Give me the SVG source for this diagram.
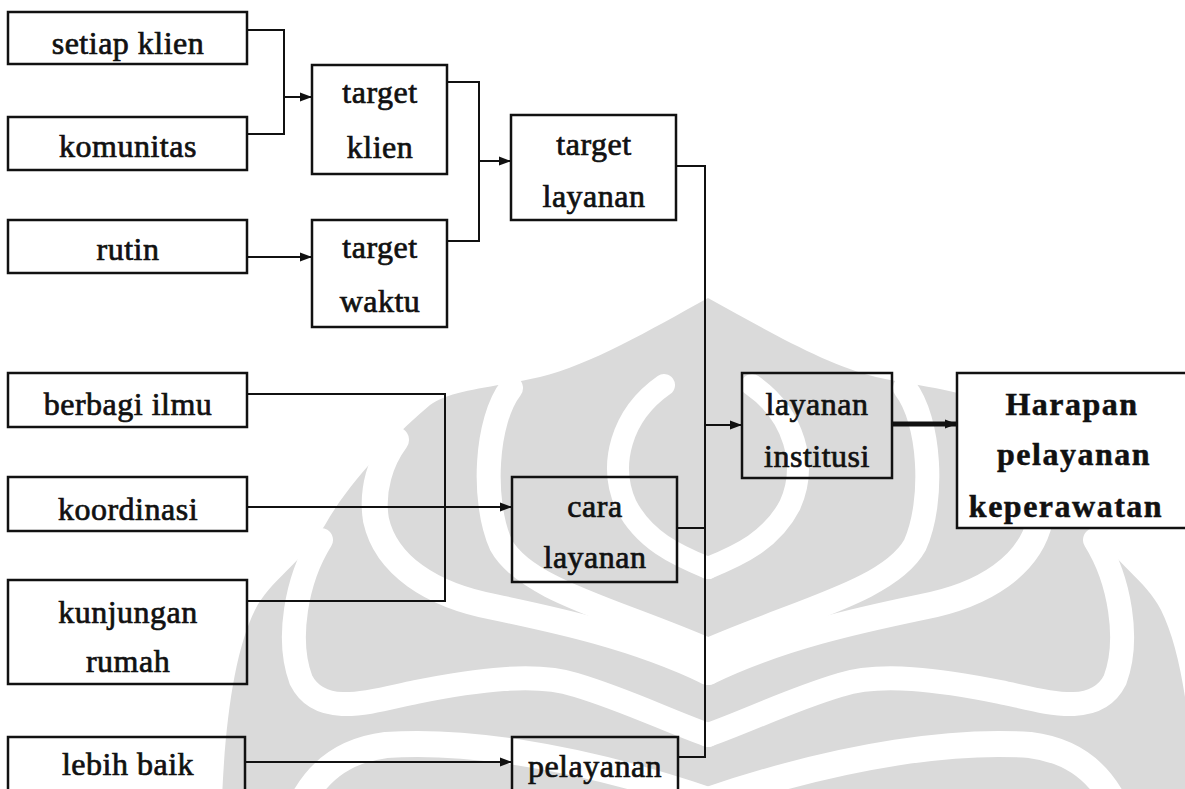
<svg xmlns="http://www.w3.org/2000/svg" xmlns:xlink="http://www.w3.org/1999/xlink" width="1185" height="789" viewBox="0 0 1185 789">
<style>
.box{fill:none;stroke:#111;stroke-width:2.5}
.ln{fill:none;stroke:#111;stroke-width:2}
.thick{fill:none;stroke:#111;stroke-width:5}
.t{font-family:"Liberation Serif","Times New Roman",serif;font-size:32px;fill:#111;stroke:#111;stroke-width:0.7;text-anchor:middle;letter-spacing:0.5px}
.tb{font-weight:bold;letter-spacing:1.5px;stroke-width:0.5}
.wm{fill:none;stroke:#fff;stroke-linecap:round}
</style>
<defs>
<marker id="ah" viewBox="0 0 12 10" refX="12" refY="5" markerWidth="12" markerHeight="10" markerUnits="userSpaceOnUse" orient="auto"><path d="M0,0.5 L12,5 L0,9.5 Z" fill="#111"/></marker>
<g id="wmhalf">
<path class="wm" d="M708,672 C780,637 860,620 922,607 C985,595 1030,565 1040,520 C1045,490 1035,460 1020,440" stroke-width="26"/>
<path class="wm" d="M905,388 C930,420 935,500 915,545 C890,590 800,610 708,650" stroke-width="24"/>
<path class="wm" d="M752,385 C795,415 808,465 790,505 C772,540 740,555 708,568" stroke-width="22"/>
<path class="wm" d="M1095,540 C1120,580 1130,640 1115,680 C1095,720 1040,700 1000,692 C940,680 880,672 840,685 C790,700 750,720 708,735" stroke-width="24"/>
<path class="wm" d="M708,800 C850,752 960,740 1030,745 C1070,750 1095,770 1110,795" stroke-width="26"/>
</g>
</defs>
<rect width="1185" height="789" fill="#fff"/>
<g id="watermark">
<path d="M708,298 C766,330 826,365 876,377 C926,388 966,390 986,405 C1016,430 1066,480 1091,525 C1116,565 1146,580 1161,610 C1181,650 1191,720 1194,800 L222,800 C225,720 235,650 255,610 C270,580 300,565 325,525 C350,480 400,430 430,405 C450,390 490,388 540,377 C590,365 650,330 708,298 Z" fill="#dadada"/>
<use xlink:href="#wmhalf"/>
<use xlink:href="#wmhalf" transform="translate(1416 0) scale(-1 1)"/>
</g>
<g id="connectors">
<path class="ln" d="M247,30 H284 V134 H247"/>
<path class="ln" d="M284,97 H312" marker-end="url(#ah)"/>
<path class="ln" d="M247,257 H312" marker-end="url(#ah)"/>
<path class="ln" d="M447,82 H479 V241 H447"/>
<path class="ln" d="M479,161 H511" marker-end="url(#ah)"/>
<path class="ln" d="M676,166 H705 V757 H678"/>
<path class="ln" d="M705,425 H742" marker-end="url(#ah)"/>
<path class="ln" d="M677,528 H705"/>
<path class="ln" d="M247,394 H445 V601 H247"/>
<path class="ln" d="M247,507 H512" marker-end="url(#ah)"/>
<path class="ln" d="M245,762 H512" marker-end="url(#ah)"/>
<path class="thick" d="M891,424 H957" marker-end="url(#ah)"/>
</g>
<g id="n-setiap-klien"><rect class="box" x="8" y="12" width="239" height="52"/><text class="t" x="128" y="54">setiap klien</text></g>
<g id="n-komunitas"><rect class="box" x="8" y="117" width="239" height="53"/><text class="t" x="128" y="157">komunitas</text></g>
<g id="n-rutin"><rect class="box" x="8" y="220" width="239" height="53"/><text class="t" x="128" y="260">rutin</text></g>
<g id="n-target-klien"><rect class="box" x="312" y="65" width="135" height="109"/><text class="t" x="380" y="103">target</text><text class="t" x="380" y="158">klien</text></g>
<g id="n-target-waktu"><rect class="box" x="312" y="220" width="135" height="107"/><text class="t" x="380" y="258">target</text><text class="t" x="380" y="312">waktu</text></g>
<g id="n-target-layanan"><rect class="box" x="511" y="115" width="165" height="105"/><text class="t" x="594" y="155">target</text><text class="t" x="594" y="207">layanan</text></g>
<g id="n-berbagi-ilmu"><rect class="box" x="8" y="373" width="239" height="54"/><text class="t" x="128" y="415">berbagi ilmu</text></g>
<g id="n-koordinasi"><rect class="box" x="8" y="477" width="239" height="54"/><text class="t" x="128" y="520">koordinasi</text></g>
<g id="n-kunjungan-rumah"><rect class="box" x="8" y="580" width="239" height="104"/><text class="t" x="128" y="623">kunjungan</text><text class="t" x="128" y="672">rumah</text></g>
<g id="n-lebih-baik"><rect class="box" x="8" y="737" width="237" height="62"/><text class="t" x="128" y="775">lebih baik</text></g>
<g id="n-cara-layanan"><rect class="box" x="512" y="477" width="165" height="105"/><text class="t" x="595" y="517">cara</text><text class="t" x="595" y="568">layanan</text></g>
<g id="n-pelayanan"><rect class="box" x="512" y="737" width="166" height="62"/><text class="t" x="595" y="777">pelayanan</text></g>
<g id="n-layanan-institusi"><rect class="box" x="742" y="373" width="150" height="105"/><text class="t" x="817" y="415">layanan</text><text class="t" x="817" y="467">institusi</text></g>
<g id="n-harapan"><rect class="box" x="957" y="373" width="240" height="155" style="fill:#fff"/><text class="t tb" x="1072" y="415">Harapan</text><text class="t tb" x="1074" y="465">pelayanan</text><text class="t tb" x="1066" y="517" letter-spacing="3.6">keperawatan</text></g>
</svg>
